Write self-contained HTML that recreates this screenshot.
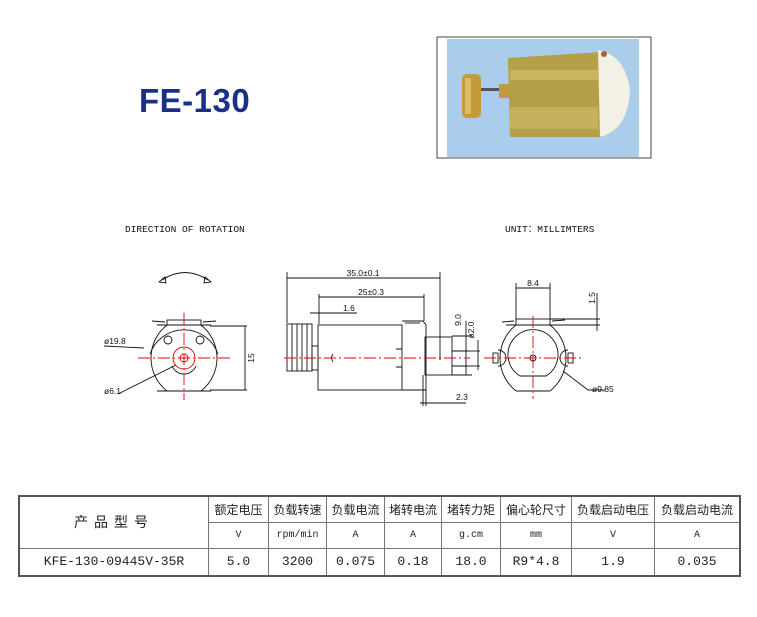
<!DOCTYPE html>
<html><head><meta charset="utf-8"><style>
body{margin:0;background:#fff;width:757px;height:617px;overflow:hidden;position:relative;font-family:"Liberation Serif","Noto Serif CJK SC",serif}
.t{position:absolute}
table{position:absolute;left:18px;top:495px;border-collapse:collapse;border:2px solid #555;font-family:"Liberation Mono","Noto Sans CJK SC",monospace;font-size:12px;color:#222}
td{border:1px solid #777;text-align:center;padding:0;}
</style></head><body>
<div class="t" style="left:139px;top:82px;font:bold 33px 'Liberation Sans',sans-serif;color:#1a2f8a;letter-spacing:0.5px">FE-130</div>
<svg width="757" height="617" style="position:absolute;left:0;top:0">
<rect x="437" y="37" width="214" height="121" fill="#fff" stroke="#444" stroke-width="1"/>
<rect x="447" y="39" width="192" height="118" fill="#a9cdea"/>
<rect x="478" y="88" width="30" height="3" fill="#555"/>
<rect x="462" y="74" width="19" height="44" rx="5" fill="#c49a3a"/>
<rect x="465" y="78" width="6" height="36" fill="#dcbd66"/>
<rect x="499" y="84" width="10" height="14" fill="#c49a3a"/>
<path d="M508 58 L600 52 L602 137 L510 137 Z" fill="#b5a04a"/>
<rect x="510" y="70" width="88" height="10" fill="#c8b560"/>
<rect x="510" y="107" width="88" height="22" fill="#c6b25c"/>
<path d="M598 50 Q625 55 630 90 Q628 130 600 137 Z" fill="#f3f0e6"/>
<circle cx="604" cy="54" r="3" fill="#b06030"/>
<text x="125" y="232" font-family="Liberation Mono,monospace" font-size="9.5" fill="#111">DIRECTION OF ROTATION</text>
<text x="505" y="232" font-family="Liberation Mono,monospace" font-size="9.5" fill="#111">UNIT：MILLIMTERS</text>
<g stroke="#111" stroke-width="0.9" fill="none">
<path d="M162 280 Q185 265 208 280"/><path d="M159 282 l6 -5 l1 6z M211 282 l-6 -5 l-1 6z"/>
<path d="M167 325 A42 42 0 0 0 167 391 M201 325 A42 42 0 0 1 201 391"/>
<line x1="157" y1="325" x2="211" y2="325"/><line x1="157" y1="391" x2="211" y2="391"/>
<path d="M150 354 A36 36 0 0 1 218 354"/>
<rect x="167" y="320" width="34" height="5"/>
<circle cx="168" cy="340" r="4"/><circle cx="200" cy="340" r="4"/>
<path d="M172 366 A13 13 0 0 0 196 366"/>
<line x1="152" y1="321" x2="165" y2="322"/><line x1="203" y1="322" x2="216" y2="321"/>
<line x1="210" y1="326" x2="247" y2="326"/><line x1="210" y1="390" x2="247" y2="390"/><line x1="245" y1="326" x2="245" y2="390"/>
<line x1="104" y1="346" x2="144" y2="348"/><line x1="118" y1="394" x2="176" y2="365"/>
<rect x="287" y="324" width="25" height="47"/>
<line x1="292" y1="324" x2="292" y2="371"/><line x1="297" y1="324" x2="297" y2="371"/><line x1="302" y1="324" x2="302" y2="371"/><line x1="307" y1="324" x2="307" y2="371"/>
<rect x="312" y="346" width="6" height="24"/>
<rect x="318" y="325" width="84" height="65"/>
<path d="M402 321 L423 321 L426 325 L426 390 L402 390"/>
<line x1="405" y1="323" x2="420" y2="323"/>
<rect x="425" y="337" width="27" height="38"/>
<line x1="452" y1="351" x2="469" y2="351"/><line x1="452" y1="366" x2="469" y2="366"/>
<path d="M333 354 Q330 358 333 362"/>
<path d="M396 349 h6 M396 367 h6"/>
<line x1="287" y1="272" x2="287" y2="323"/><line x1="440" y1="272" x2="440" y2="360"/><line x1="287" y1="278" x2="440" y2="278"/>
<line x1="319" y1="294" x2="319" y2="324"/><line x1="424" y1="294" x2="424" y2="321"/><line x1="319" y1="297" x2="424" y2="297"/>
<line x1="310" y1="313" x2="357" y2="313"/>
<line x1="452" y1="336" x2="472" y2="336"/><line x1="452" y1="375" x2="472" y2="375"/><line x1="466" y1="321" x2="466" y2="375"/>
<line x1="469" y1="351" x2="480" y2="351"/><line x1="469" y1="366" x2="480" y2="366"/><line x1="478" y1="340" x2="478" y2="370"/>
<line x1="423" y1="375" x2="423" y2="406"/><line x1="426" y1="390" x2="426" y2="406"/><line x1="420" y1="403" x2="466" y2="403"/>
<path d="M516 325 A42 42 0 0 0 516 391 M550 325 A42 42 0 0 1 550 391"/>
<line x1="506" y1="325" x2="560" y2="325"/><line x1="516" y1="391" x2="550" y2="391"/>
<rect x="516" y="319" width="34" height="6"/>
<path d="M520 376 A25 25 0 1 1 546 376 Z"/>
<circle cx="533" cy="358" r="3"/>
<rect x="493" y="353" width="5" height="10"/><rect x="568" y="353" width="5" height="10"/>
<path d="M498 350 A8 8 0 0 1 498 366 M568 350 A8 8 0 0 0 568 366"/>
<line x1="516" y1="283" x2="516" y2="319"/><line x1="550" y1="283" x2="550" y2="319"/><line x1="516" y1="288" x2="550" y2="288"/>
<line x1="550" y1="319" x2="600" y2="319"/><line x1="550" y1="325" x2="600" y2="325"/><line x1="597" y1="293" x2="597" y2="331"/>
<line x1="502" y1="322" x2="514" y2="321"/><line x1="552" y1="321" x2="565" y2="320"/>
<line x1="563" y1="371" x2="588" y2="390"/><line x1="588" y1="390" x2="605" y2="390"/>
</g>
<g stroke="#e00" stroke-width="0.9" fill="none">
<line x1="138" y1="358" x2="232" y2="358" stroke-dasharray="12 3 2 3"/>
<line x1="184" y1="313" x2="184" y2="400" stroke-dasharray="12 3 2 3"/>
<circle cx="184" cy="358" r="11"/><circle cx="184" cy="358" r="4"/>
<line x1="284" y1="358" x2="470" y2="358" stroke-dasharray="12 3 2 3"/>
<line x1="484" y1="358" x2="582" y2="358" stroke-dasharray="12 3 2 3"/>
<line x1="533" y1="316" x2="533" y2="399" stroke-dasharray="12 3 2 3"/>
</g>
<g font-family="Liberation Sans,sans-serif" font-size="8.5" fill="#111">
<text x="104" y="344">ø19.8</text><text x="104" y="394">ø6.1</text>
<text x="250" y="362" transform="rotate(-90 250 358)" text-anchor="middle">15</text>
<text x="363" y="276" text-anchor="middle">35.0±0.1</text>
<text x="371" y="295" text-anchor="middle">25±0.3</text>
<text x="343" y="311">1.6</text>
<text x="461" y="320" transform="rotate(-90 461 320)" text-anchor="middle">9.0</text>
<text x="474" y="330" transform="rotate(-90 474 330)" text-anchor="middle">ø2.0</text>
<text x="456" y="400">2.3</text>
<text x="533" y="286" text-anchor="middle">8.4</text>
<text x="595" y="298" transform="rotate(-90 595 298)" text-anchor="middle">1.5</text>
<text x="592" y="392">ø9.85</text>
</g>
</svg>
<table>
<tr style="height:26px"><td rowspan="2" style="width:188px;font-size:14px;letter-spacing:6px">产品型号</td><td style="width:59px">额定电压</td><td style="width:57px">负载转速</td><td style="width:57px">负载电流</td><td style="width:56px">堵转电流</td><td style="width:58px">堵转力矩</td><td style="width:70px">偏心轮尺寸</td><td style="width:82px">负载启动电压</td><td style="width:84px">负载启动电流</td></tr>
<tr style="height:26px;font-size:10px"><td>V</td><td>rpm/min</td><td>A</td><td>A</td><td>g.cm</td><td>mm</td><td>V</td><td>A</td></tr>
<tr style="height:28px;font-size:13px"><td>KFE-130-09445V-35R</td><td>5.0</td><td>3200</td><td>0.075</td><td>0.18</td><td>18.0</td><td>R9*4.8</td><td>1.9</td><td>0.035</td></tr>
</table>
</body></html>
